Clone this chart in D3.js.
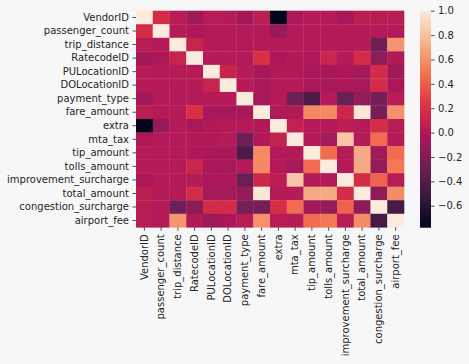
<!DOCTYPE html>
<html>
<head>
<meta charset="utf-8">
<script src="https://cdn.jsdelivr.net/npm/d3@7"></script>
<style>
  html, body { margin: 0; padding: 0; background: #f7f7f7; }
  svg { display: block; font-family: "DejaVu Sans", sans-serif; }
</style>
</head>
<body>
<svg id="chart" width="469" height="364"></svg>
<script>
const labels = ["VendorID","passenger_count","trip_distance","RatecodeID","PULocationID","DOLocationID","payment_type","fare_amount","extra","mta_tax","tip_amount","tolls_amount","improvement_surcharge","total_amount","congestion_surcharge","airport_fee"];

const corrVendorID            = [1, 0.17, 0.03, -0.07, 0.03, 0.02, -0.06, 0.05, -0.78, -0.01, 0.02, 0.02, -0.03, 0.05, 0.03, 0.03];
const corrPassengerCount      = [0.17, 1, 0.02, -0.01, 0.01, 0.01, 0.01, 0.01, -0.1, 0.01, 0.01, 0.01, 0.01, 0.01, 0.01, 0.01];
const corrTripDistance        = [0.03, 0.02, 1, 0.1, 0.02, 0.02, 0.01, 0.02, 0.01, 0.01, 0.01, 0.02, 0.01, 0.02, -0.28, 0.62];
const corrRatecodeID          = [-0.07, -0.01, 0.1, 1, 0.02, 0.02, 0.01, 0.2, -0.03, 0.0, -0.01, 0.12, 0.02, 0.17, -0.15, 0.0];
const corrPULocationID        = [0.03, 0.01, 0.02, 0.02, 1, 0.1, 0.02, -0.04, 0.0, 0.0, -0.04, -0.04, -0.02, -0.05, 0.17, -0.07];
const corrDOLocationID        = [0.02, 0.01, 0.02, 0.02, 0.1, 1, 0.02, -0.04, 0.01, 0.02, -0.04, -0.04, -0.02, -0.05, 0.17, -0.03];
const corrPaymentType         = [-0.06, 0.01, 0.01, 0.01, 0.02, 0.02, 1, -0.05, 0.01, -0.28, -0.42, 0.01, -0.3, -0.12, -0.25, 0.03];
const corrFareAmount          = [0.05, 0.01, 0.02, 0.2, -0.04, -0.04, -0.05, 1, 0.0, 0.0, 0.57, 0.57, 0.13, 0.98, -0.25, 0.6];
const corrExtra               = [-0.78, -0.1, 0.01, -0.03, 0.0, 0.01, 0.01, 0.0, 1, 0.08, 0.01, 0.01, 0.05, 0.02, 0.18, 0.03];
const corrMtaTax              = [-0.01, 0.01, 0.01, 0.0, 0.0, 0.02, -0.28, 0.0, 0.08, 1, 0.01, -0.05, 0.82, 0.02, 0.45, 0.02];
const corrTipAmount           = [0.02, 0.01, 0.01, -0.01, -0.04, -0.04, -0.42, 0.57, 0.01, 0.01, 1, 0.45, 0.02, 0.7, -0.07, 0.45];
const corrTollsAmount         = [0.02, 0.01, 0.02, 0.12, -0.04, -0.04, 0.01, 0.57, 0.01, -0.05, 0.45, 1, 0.01, 0.7, -0.12, 0.5];
const corrImprovementSurcharge= [-0.03, 0.01, 0.01, 0.02, -0.02, -0.02, -0.3, 0.13, 0.05, 0.82, 0.02, 0.01, 1, 0.17, 0.42, 0.03];
const corrTotalAmount         = [0.05, 0.01, 0.02, 0.17, -0.05, -0.05, -0.12, 0.98, 0.02, 0.02, 0.7, 0.7, 0.17, 1, -0.15, 0.58];
const corrCongestionSurcharge = [0.03, 0.01, -0.28, -0.15, 0.17, 0.17, -0.25, -0.25, 0.18, 0.45, -0.07, -0.12, 0.42, -0.15, 1, -0.45];
const corrAirportFee          = [0.03, 0.01, 0.62, 0.0, -0.07, -0.03, 0.03, 0.6, 0.03, 0.02, 0.45, 0.5, 0.03, 0.58, -0.45, 1];

const colorbarTicks = [-0.6, -0.4, -0.2, 0.0, 0.2, 0.4, 0.6, 0.8, 1.0];

const rows = [corrVendorID, corrPassengerCount, corrTripDistance, corrRatecodeID, corrPULocationID, corrDOLocationID, corrPaymentType, corrFareAmount, corrExtra, corrMtaTax, corrTipAmount, corrTollsAmount, corrImprovementSurcharge, corrTotalAmount, corrCongestionSurcharge, corrAirportFee];

const cells = [];
rows.forEach((r, i) => r.forEach((v, j) => cells.push({row: labels[i], col: labels[j], v})));

const vmin = d3.min(cells, d => d.v), vmax = d3.max(cells, d => d.v);

// rocket colormap approximation
const rocketStops = ["#03051a", "#35193e", "#701f57", "#ad1759", "#e13342", "#f37651", "#f6b48f", "#faebdd"];
const rocketPos = [0, 1/7, 2/7, 3/7, 4/7, 5/7, 6/7, 1];
const rocket = d3.scaleLinear().domain(rocketPos).range(rocketStops).interpolate(d3.interpolateRgb).clamp(true);
const norm = d3.scaleLinear().domain([vmin, vmax]).range([0, 1]);
const color = v => rocket(norm(v));

const svg = d3.select("#chart");
const textColor = "#262626";

const x = d3.scaleBand().domain(labels).range([136, 404]);
const y = d3.scaleBand().domain(labels).range([10.7, 227.3]);

svg.append("g").selectAll("rect").data(cells).join("rect")
  .attr("x", d => x(d.col))
  .attr("y", d => y(d.row))
  .attr("width", x.bandwidth() + 0.3)
  .attr("height", y.bandwidth() + 0.3)
  .attr("fill", d => color(d.v));

// Y axis
const yAxis = svg.append("g").attr("transform", "translate(136,0)")
  .call(d3.axisLeft(y).tickSize(3.5).tickPadding(3.5));
yAxis.select(".domain").remove();
yAxis.selectAll("line").attr("stroke", textColor).attr("stroke-width", 0.8);
yAxis.selectAll("text").attr("font-size", 10).attr("fill", textColor).attr("font-family", "DejaVu Sans");

// X axis
const xAxis = svg.append("g").attr("transform", "translate(0,227.3)")
  .call(d3.axisBottom(x).tickSize(3.5).tickPadding(3.5));
xAxis.select(".domain").remove();
xAxis.selectAll("line").attr("stroke", textColor).attr("stroke-width", 0.8);
xAxis.selectAll("text")
  .attr("font-size", 10).attr("fill", textColor).attr("font-family", "DejaVu Sans")
  .attr("transform", "rotate(-90)")
  .attr("x", -7).attr("y", 0).attr("dy", "0.32em")
  .attr("text-anchor", "end");

// Colorbar
const cbX = 420, cbW = 11, cbTop = 10.7, cbBot = 227.7;
const defs = svg.append("defs");
const grad = defs.append("linearGradient").attr("id", "cbgrad")
  .attr("x1", 0).attr("y1", 1).attr("x2", 0).attr("y2", 0);
d3.range(0, 1.0001, 0.02).forEach(t => {
  grad.append("stop").attr("offset", t).attr("stop-color", rocket(t));
});
svg.append("rect").attr("x", cbX).attr("y", cbTop).attr("width", cbW).attr("height", cbBot - cbTop)
  .attr("fill", "url(#cbgrad)");
const cbScale = d3.scaleLinear().domain([vmin, vmax]).range([cbBot, cbTop]);
const fmt = v => d3.format(".1f")(v).replace("-", "\u2212");
const cbAxis = svg.append("g").attr("transform", `translate(${cbX + cbW},0)`)
  .call(d3.axisRight(cbScale).tickValues(colorbarTicks).tickFormat(fmt).tickSize(3.5).tickPadding(3.5));
cbAxis.select(".domain").remove();
cbAxis.selectAll("line").attr("stroke", textColor).attr("stroke-width", 0.8);
cbAxis.selectAll("text").attr("font-size", 10).attr("fill", textColor).attr("font-family", "DejaVu Sans");
</script>
</body>
</html>
